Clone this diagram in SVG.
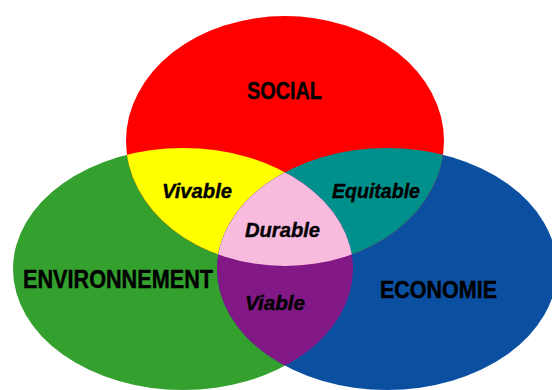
<svg xmlns="http://www.w3.org/2000/svg" width="552" height="390" viewBox="0 0 552 390">
<style>
.lbl{font-family:"Liberation Sans",Arial,sans-serif;font-weight:bold;fill:#000;stroke:#000;stroke-width:0.4;}
.big{font-size:23px;}
.it{font-size:21px;font-style:italic;}
</style>
<defs>
<ellipse id="eS" cx="285" cy="141" rx="159" ry="125"/>
<ellipse id="eE" cx="183" cy="269" rx="170" ry="121"/>
<ellipse id="eC" cx="387" cy="269" rx="170" ry="121"/>
<clipPath id="cS"><use href="#eS"/></clipPath>
<clipPath id="cE"><use href="#eE"/></clipPath>
<clipPath id="cC"><use href="#eC"/></clipPath>
</defs>
<rect width="552" height="390" fill="#fff"/>
<g id="environnement"><use href="#eE" fill="#34a02e"/></g>
<g id="economie"><use href="#eC" fill="#0b4fa1"/></g>
<g id="social"><use href="#eS" fill="#ff0000"/></g>
<g id="vivable"><g clip-path="url(#cE)"><use href="#eS" fill="#ffff00"/></g></g>
<g id="equitable"><g clip-path="url(#cC)"><use href="#eS" fill="#00908c"/></g></g>
<g id="viable"><g clip-path="url(#cC)"><use href="#eE" fill="#821886"/></g></g>
<g id="durable"><g clip-path="url(#cC)"><g clip-path="url(#cE)"><use href="#eS" fill="#f8bbde"/></g></g></g>
<g id="labels">
<text class="lbl big" x="247" y="99" textLength="75" lengthAdjust="spacingAndGlyphs">SOCIAL</text>
<text class="lbl big" x="23" y="288" style="font-size:25px" textLength="190" lengthAdjust="spacingAndGlyphs">ENVIRONNEMENT</text>
<text class="lbl big" x="380" y="298" textLength="117" lengthAdjust="spacingAndGlyphs">ECONOMIE</text>
<text class="lbl it" x="162" y="198" textLength="70" lengthAdjust="spacingAndGlyphs">Vivable</text>
<text class="lbl it" x="332" y="198" textLength="88" lengthAdjust="spacingAndGlyphs">Equitable</text>
<text class="lbl it" x="245" y="237" textLength="75" lengthAdjust="spacingAndGlyphs">Durable</text>
<text class="lbl it" x="245" y="310" textLength="60" lengthAdjust="spacingAndGlyphs">Viable</text>
</g>
</svg>
